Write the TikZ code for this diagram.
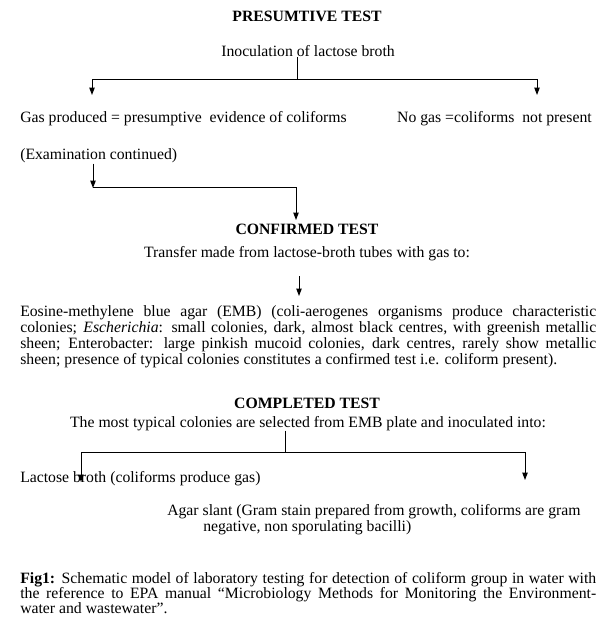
\documentclass[tikz,border=0pt]{standalone}
\usepackage{fontspec}
\setmainfont{Liberation Serif}
\usetikzlibrary{arrows.meta, calc}
\hyphenpenalty=10000
\exhyphenpenalty=10000
\tolerance=9999

\begin{document}
\begin{tikzpicture}[
  x=0.75pt, y=-0.75pt,
  txt/.style={inner sep=0pt, anchor=base, font=\fontsize{11.8}{12.2}\selectfont},
  head/.style={txt, font=\fontsize{11.8}{12.2}\selectfont\bfseries},
  para/.style={inner sep=0pt, anchor=base west, text width=432pt, align=justify,
               font=\fontsize{11.8}{12.2}\selectfont},
  arr/.style={-{Triangle[width=4pt,length=5.5pt]}, line width=0.75pt, black},
  ln/.style={line width=0.75pt, black}
]
\useasboundingbox (0,0) rectangle (614,627);
% Presumptive test
\node[head] (pres) at (307,22) {PRESUMTIVE TEST};
\node[txt] (inoc) at (308,57) {Inoculation of lactose broth};
\node[txt, anchor=base west] (gas) at (20,123) {Gas produced = presumptive\ \ evidence of coliforms};
\node[txt, anchor=base east] (nogas) at (592,123) {No gas =coliforms\ \ not present};
\node[txt, anchor=base west] (exam) at (20,160) {(Examination continued)};
\coordinate (j1) at (297,80);
\coordinate (t1) at (92,95);
\coordinate (t2) at (537,95);
\draw[ln] (inoc.south -| j1) -- (j1);
\draw[arr] (j1) -| (t1);
\draw[arr] (j1) -| (t2);
\coordinate (j2) at (93,188);
\coordinate (t3) at (296,220);
\draw[arr] (exam.south -| j2) -- (j2);
\draw[arr] (j2) -| (t3);
% Confirmed test
\node[head] (conf) at (307,234) {CONFIRMED TEST};
\node[txt] (trans) at (307,257) {Transfer made from lactose-broth tubes with gas to:};
\coordinate (t4) at (299,296);
\draw[arr] ($(trans.base -| t4)+(0,19)$) -- (t4);
\node[para] (emb) at (20,316) {Eosine-methylene blue agar (EMB) (coli-aerogenes organisms produce characteristic\linebreak
  colonies; \textit{Escherichia}: small colonies, dark, almost black centres, with greenish metallic\linebreak
  sheen; Enterobacter: large pinkish mucoid colonies, dark centres, rarely show metallic\linebreak
  sheen; presence of typical colonies constitutes a confirmed test i.e. coliform present).};
% Completed test
\node[head] (comp) at (307,408) {COMPLETED TEST};
\node[txt] (typ) at (308,427) {The most typical colonies are selected from EMB plate and inoculated into:};
\coordinate (j3) at (285,452);
\coordinate (t5) at (81,482);
\coordinate (t6) at (525,480);
\draw[ln] (typ.south -| j3) -- (j3);
\draw[arr] (j3) -| (t5);
\draw[arr] (j3) -| (t6);
\node[txt, anchor=base west] (lac) at (20,482) {Lactose broth (coliforms produce gas)};
\node[txt, anchor=base west] (agar) at (167,515) {Agar slant (Gram stain prepared from growth, coliforms are gram};
\node[txt, anchor=base west] (agarb) at (203,531) {negative, non sporulating bacilli)};
% Caption
\node[para, font=\fontsize{11.8}{11.5}\selectfont] (cap) at (20,583) {\textbf{Fig1:} Schematic model of laboratory testing for detection of coliform group in water with\linebreak
  the reference to EPA manual “Microbiology Methods for Monitoring the Environment-\linebreak
  water and wastewater”.};
\end{tikzpicture}
\end{document}
